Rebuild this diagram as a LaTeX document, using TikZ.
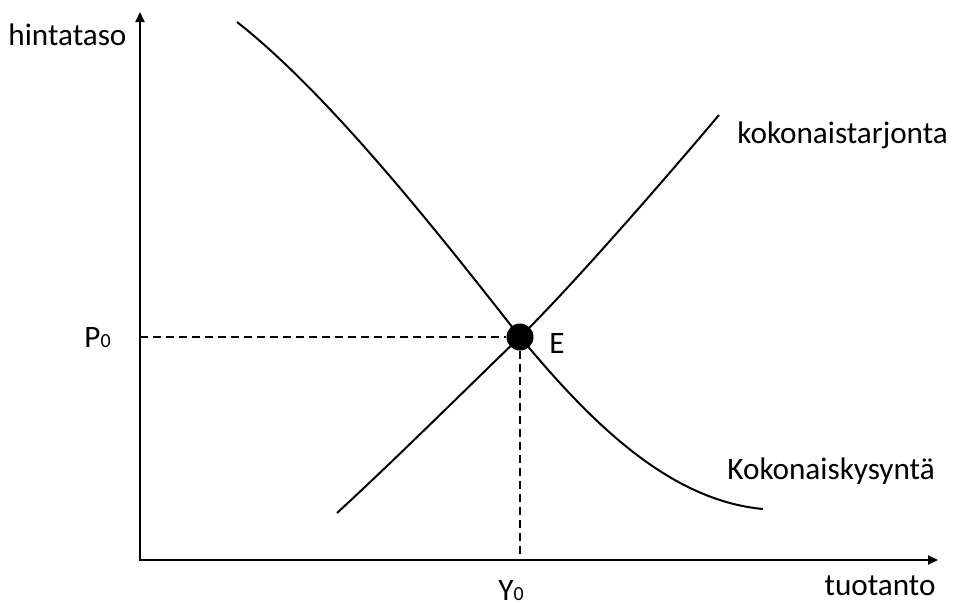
\documentclass[tikz,border=0pt]{standalone}
\usepackage{fontspec}
\setmainfont{Carlito}
\usetikzlibrary{arrows.meta}
\newcommand{\idx}[1]{{\fontsize{10}{10}\selectfont #1}}

\begin{document}
\begin{tikzpicture}[
  x=0.5pt, y=-0.5pt,
  every node/.style={font=\fontsize{15.6}{19}\selectfont, inner sep=0pt},
  axis/.style={line width=1pt, {Triangle[length=5pt,width=4.5pt]}-{Triangle[length=5pt,width=4.5pt]}},
  curve/.style={line width=1pt, line join=round},
  guide/.style={line width=0.6pt, dash pattern=on 4pt off 2.5pt},
  eq/.style={circle, fill=black, minimum size=13.5pt, inner sep=0pt},
  lbl/.style={anchor=base west}
]
  \useasboundingbox (0,0) rectangle (954,605);
  \coordinate (o)      at (140,560);
  \coordinate (ytop)   at (140,12);
  \coordinate (xend)   at (938,560);
  \coordinate (p0axis) at (140,337);
  \coordinate (y0axis) at (520,560);

  % axes
  \draw[axis] (ytop) -- (o) -- (xend);

  % aggregate demand and supply
  \draw[curve] (237,22) .. controls (330,95) and (440,235) .. (520,337)
    .. controls (585,415) and (665,500) .. (763,509);
  \draw[curve] (337,513) .. controls (400,455) and (470,385) .. (520,337)
    .. controls (570,288) and (660,185) .. (719,115);

  % equilibrium
  \node[eq] (E) at (520,337) {};
  \draw[guide] (p0axis) -- (E);
  \draw[guide] (E) -- (y0axis);

  \node[lbl] (ylab) at (8,46) {hintataso};
  \node[anchor=base east] (xlab) at (936,595) {tuotanto};
  \node[lbl] (plab) at (84,347) {P\idx{0}};
  \node[lbl] (qlab) at (498,600) {Y\idx{0}};
  \node[lbl] (elab) at (549,353) {E};
  \node[lbl] (slab) at (737,143) {kokonaistarjonta};
  \node[lbl] (dlab) at (727,479) {Kokonaiskysyntä};
\end{tikzpicture}
\end{document}
